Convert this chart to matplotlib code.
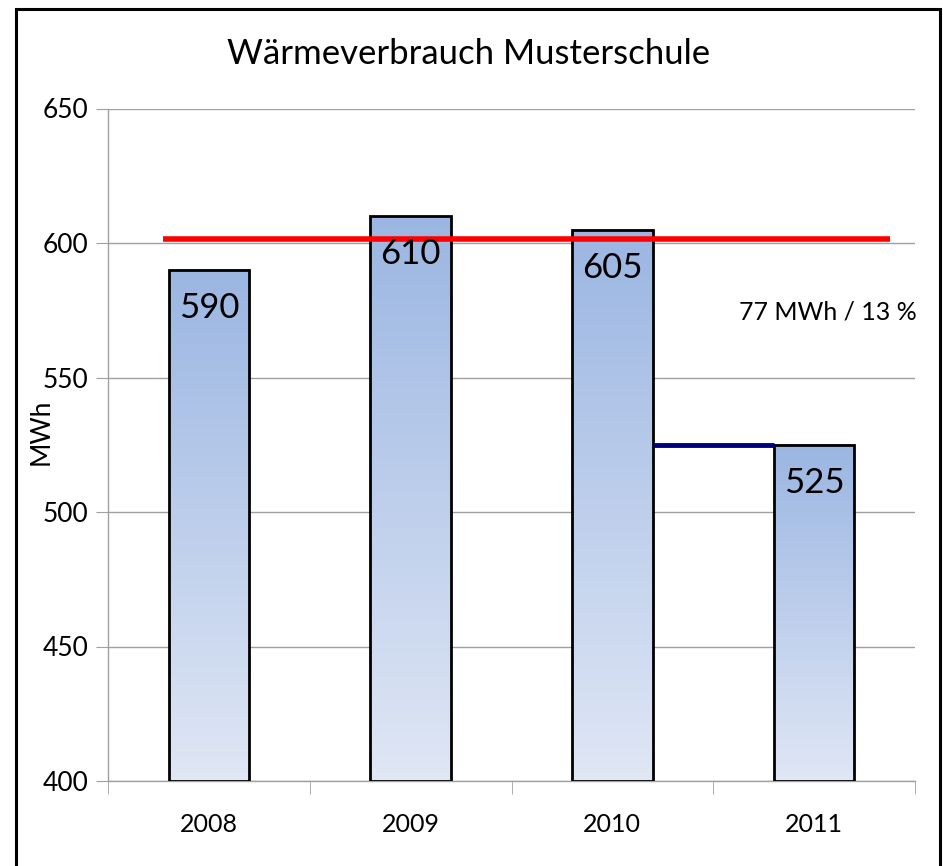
import numpy as np
import matplotlib
matplotlib.use("Agg")
import matplotlib.pyplot as plt
from matplotlib.patches import Rectangle
from matplotlib.colors import LinearSegmentedColormap

years = ["2008", "2009", "2010", "2011"]
values = [590, 610, 605, 525]
title = "Wärmeverbrauch Musterschule"
ylabel = "MWh"
yticks = [400, 450, 500, 550, 600, 650]
saving_text = "77 MWh / 13 %"

plt.rcParams['font.family'] = ['Lato', 'DejaVu Sans']

fig = plt.figure(figsize=(9.43, 8.66), dpi=100)
ax = fig.add_axes([108/943, 1-781/866, (915-108)/943, (781-108.5)/866])

x = np.arange(len(years))
width = 0.4
cmap = LinearSegmentedColormap.from_list("g", ["#e0e7f5", "#9bb6e2"])
grad = np.linspace(0, 1, 256).reshape(-1, 1)
ymin, ymax = yticks[0], yticks[-1]
for xi, v in zip(x, values):
    ax.imshow(grad, extent=[xi - width/2, xi + width/2, ymin, v], origin='lower',
              aspect='auto', cmap=cmap, zorder=2, interpolation='bilinear')
ax.bar(x, np.array(values) - ymin, bottom=ymin, width=width, fill=False,
       edgecolor='black', linewidth=2, zorder=3)

for xi, v in zip(x, values):
    ax.annotate(str(v), (xi, v), xytext=(0, -16), textcoords='offset points',
                ha='center', va='top', fontsize=25, zorder=5)

# average line of first three years
avg = np.mean(values[:3])
ax.plot([-0.227, 3.376], [avg, avg], color='#ff0000', linewidth=4, zorder=4,
        solid_capstyle='butt')
# saving line
ax.plot([x[2] + width/2, x[3] - width/2], [values[3], values[3]], color='#000080',
        linewidth=3.5, zorder=4, solid_capstyle='butt')
ax.text(3.07, 574.4, saving_text, ha='center', va='center', fontsize=18, zorder=5)

ax.set_xlim(-0.5, len(years) - 0.5)
ax.set_ylim(ymin, ymax)
ax.set_yticks(yticks)
ax.set_yticklabels([str(t) for t in yticks], fontsize=19)
ax.set_xticks(x)
ax.set_xticklabels(years, fontsize=18)
ax.tick_params(axis='x', length=0, pad=23)
ax.set_xticks(np.arange(-0.5, len(years)), minor=True)
ax.tick_params(axis='x', which='minor', length=9, color='#a0a0a0', direction='out')
ax.tick_params(axis='y', length=9, color='#a0a0a0', direction='out', pad=5)
ax.yaxis.grid(True, color='#a0a0a0', linewidth=1)
ax.set_axisbelow(True)
for s in ['top', 'right']:
    ax.spines[s].set_visible(False)
for s in ['left', 'bottom']:
    ax.spines[s].set_color('#a0a0a0')
    ax.spines[s].set_linewidth(1)
ax.set_ylabel(ylabel, fontsize=19, va='center')
ax.yaxis.set_label_coords(-0.083, 0.519)

fig.text(469/943, 1-54/866, title, ha='center', va='center', fontsize=25)

fig.patches.append(Rectangle((16/943, -0.05), (940-16)/943, 1.05 - 9/866,
                             transform=fig.transFigure, fill=False,
                             edgecolor='black', linewidth=2.2))

fig.savefig("out.png", dpi=100)
